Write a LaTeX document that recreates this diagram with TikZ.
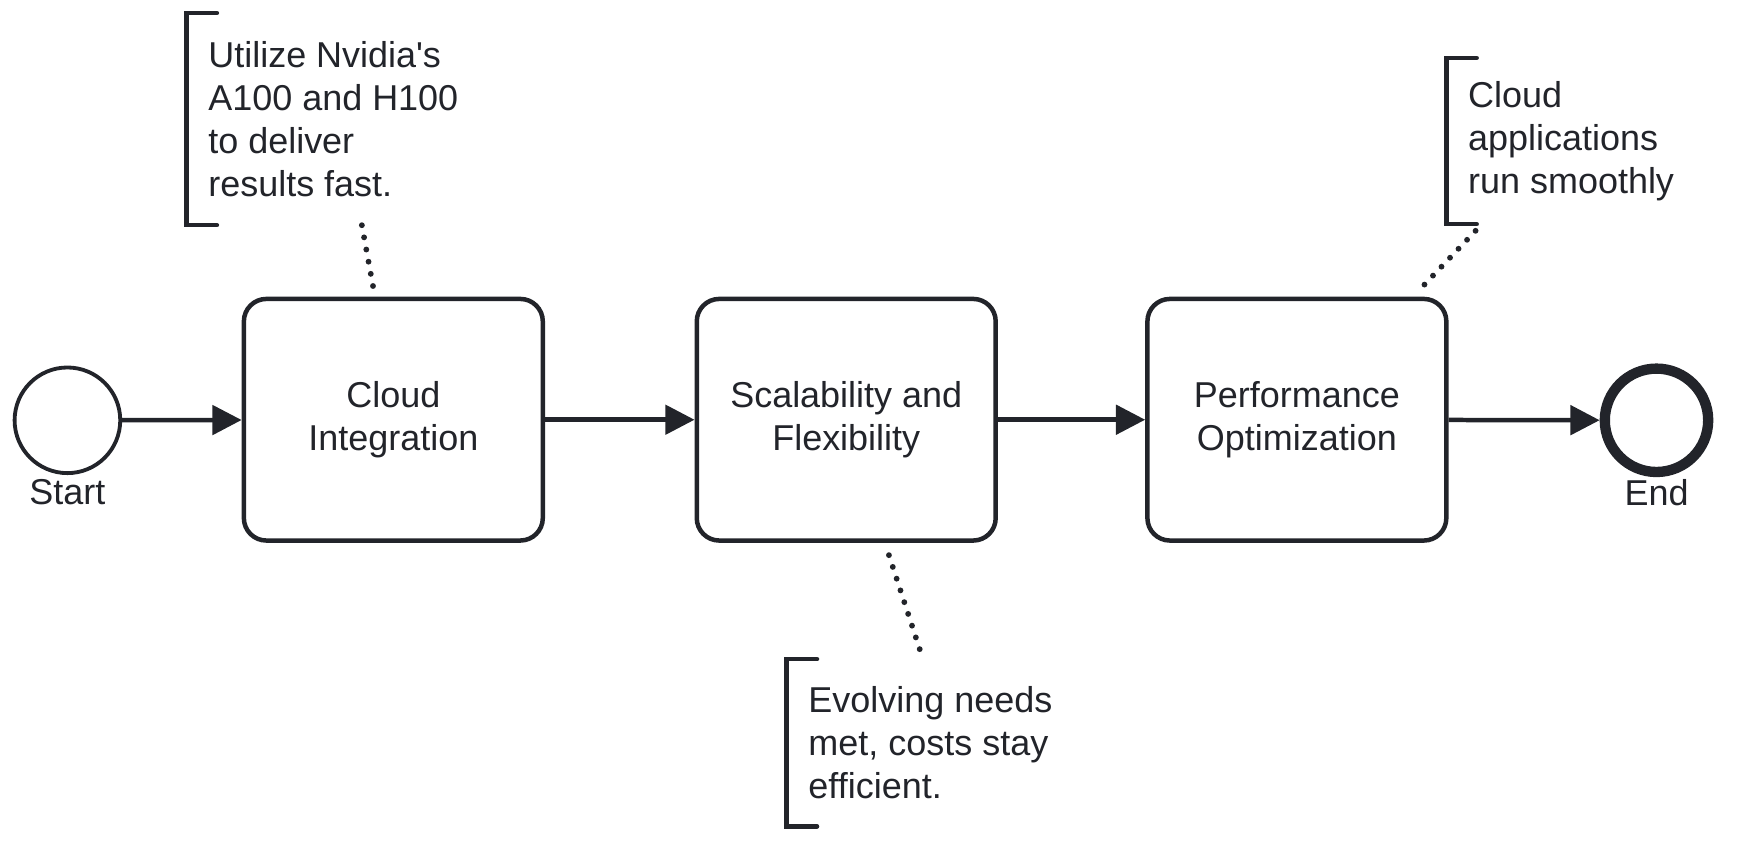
\documentclass[tikz,border=0pt]{standalone}
\usepackage{fontspec}
\setmainfont{Liberation Sans}[Ligatures=TeXOff]
\usetikzlibrary{arrows.meta}
\definecolor{ink}{HTML}{22242A}

\begin{document}
\begin{tikzpicture}[
    x=0.5pt, y=-0.5pt,
    every node/.style={text=ink, font=\fontsize{16}{19.25}\selectfont},
    event/.style={circle, draw=ink, line width=1.7pt, fill=white,
        minimum size=47pt, inner sep=0pt},
    endevent/.style={event, line width=4.6pt, minimum size=46pt},
    task/.style={rectangle, rounded corners=10pt, draw=ink, line width=2pt,
        fill=white, minimum width=133pt, minimum height=107.5pt, align=center},
    note/.style={anchor=west, align=left, inner xsep=9.5pt, inner ysep=0pt},
    bracket/.style={draw=ink, line width=2pt, line cap=round},
    flow/.style={draw=ink, line width=2pt, -{Triangle[length=13pt, width=13pt]}},
    assoc/.style={draw=ink, line width=2.6pt, line cap=round,
        dash pattern=on 0pt off 5.5pt}
]
    \useasboundingbox (0,0) rectangle (1567,747.5);

    \node[event] (start) at (60,374) {};
    \node at (60,438) {Start};
    \node[task] (cloud) at (350,373.5) {Cloud\\Integration};
    \node[task] (scal) at (753,373.5) {Scalability and\\Flexibility};
    \node[task] (perf) at (1154,373.5) {Performance\\Optimization};
    \node[endevent] (end) at (1474,374) {};
    \node at (1474,438) {End};

    \draw[flow] (start) -- (cloud);
    \draw[flow] (cloud) -- (scal);
    \draw[flow] (scal) -- (perf);
    \draw[flow] (perf) -- (end);

    \node[note, minimum height=94pt] (noteA) at (166,106)
        {Utilize Nvidia's\\A100 and H100\\to deliver\\results fast.};
    \node[note, minimum height=74pt] (noteB) at (700,661)
        {Evolving needs\\met, costs stay\\efficient.};
    \node[note, minimum height=73.5pt] (noteC) at (1287,125.5)
        {Cloud\\applications\\run smoothly};

    \foreach \n in {noteA, noteB, noteC}
        \draw[bracket] ([xshift=13.5pt]\n.north west) -- (\n.north west)
            -- (\n.south west) -- ([xshift=13.5pt]\n.south west);

    \draw[assoc] ([xshift=78pt]noteA.south west) -- ([xshift=-9pt, yshift=4.5pt]cloud.north);
    \draw[assoc] ([xshift=19pt, yshift=-5.5pt]scal.south) -- ([xshift=60pt, yshift=2pt]noteB.north west);
    \draw[assoc] ([xshift=13pt, yshift=-3pt]noteC.south west) -- ([xshift=54.5pt, yshift=3pt]perf.north);
\end{tikzpicture}
\end{document}
